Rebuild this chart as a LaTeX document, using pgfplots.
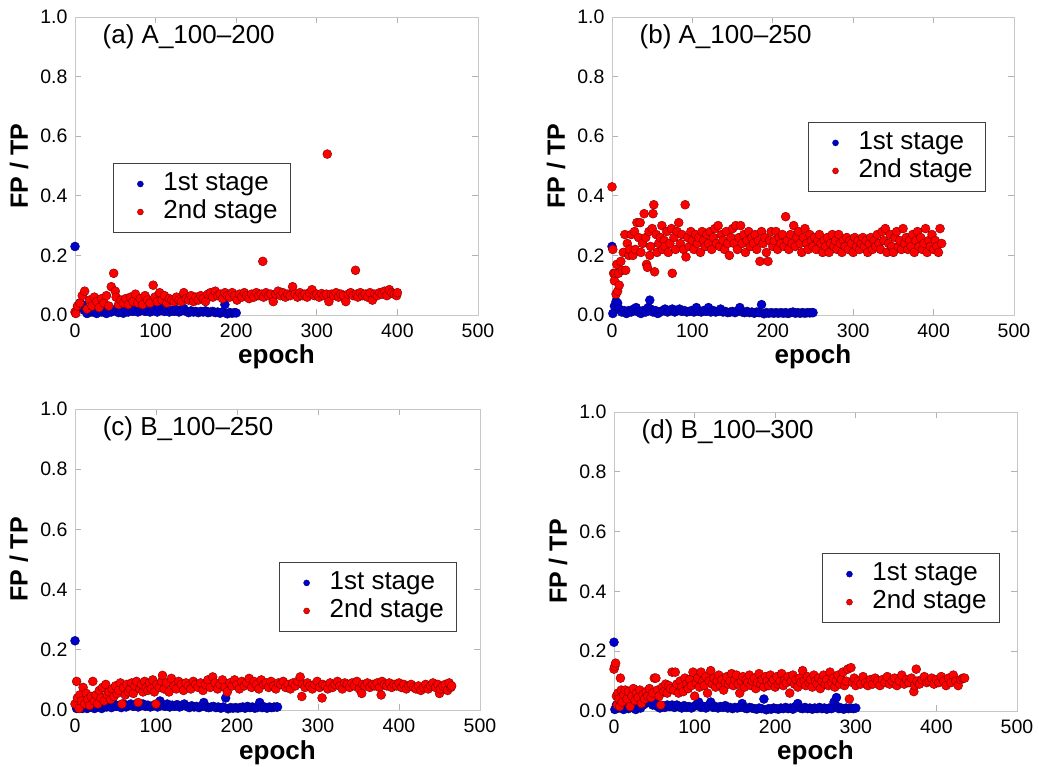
\documentclass[border=0pt]{standalone}
\usepackage{fontspec}
\setmainfont{Liberation Sans}
\usepackage{pgfplots}
\pgfplotsset{compat=1.18}
\definecolor{mblue}{RGB}{0,0,205}
\definecolor{mblueedge}{RGB}{0,0,110}
\definecolor{mred}{RGB}{255,0,0}
\definecolor{mrededge}{RGB}{120,0,0}
\pgfplotsset{
  myax/.style={
    scale only axis,
    anchor=south west,
    xmin=0, xmax=500, ymin=0, ymax=1.0,
    xtick={0,100,200,300,400,500},
    ytick={0,0.2,0.4,0.6,0.8,1.0},
    clip=false,
    axis line style={draw=black!22, line width=1pt},
    tick style={draw=black!30, line width=1pt},
    major tick length=6pt,
    /pgf/number format/assume math mode=true,
    yticklabel style={/pgf/number format/fixed, /pgf/number format/fixed zerofill, /pgf/number format/precision=1, xshift=-4pt},
    ticklabel style={font=\fontsize{19.5}{22}\selectfont},
    xticklabel style={yshift=-5pt},
    scaled y ticks=false,
    xlabel={epoch}, ylabel={FP / TP},
    xlabel style={at={(axis description cs:0.5,-0.141)}, anchor=center, font=\bfseries\fontsize{26}{30}\selectfont},
    ylabel style={at={(axis description cs:-0.139,0.5)}, anchor=center, font=\bfseries\fontsize{25}{30}\selectfont},
    legend cell align=left,
    legend image code/.code={\path[draw=none, fill=none] (0pt,-1pt) rectangle (30pt,1pt);
      \draw[mark repeat=2,mark phase=2,#1] plot coordinates {(0pt,0pt) (15pt,0pt) (30pt,0pt)};},
    legend image post style={mark size=3pt, line width=0.3pt},
    legend style={draw=black!75, line width=1pt, fill=white,
      font=\fontsize{26}{30}\selectfont,
      inner xsep=12pt, inner ysep=7pt, row sep=1pt,
      nodes={inner sep=1pt, text height=19pt, text depth=6pt},
      /tikz/every odd column/.append style={column sep=7pt}},
  },
  bser/.style={only marks, mark=*, mark size=4.5pt, mark options={fill=mblue, draw=mblueedge, line width=0.4pt}},
  rser/.style={only marks, mark=*, mark size=4.5pt, mark options={fill=mred, draw=mrededge, line width=0.4pt}},
}
\begin{document}
\begin{tikzpicture}
\useasboundingbox (0,0) rectangle (1039pt,-766pt);
% (a)
\begin{axis}[myax, at={(75pt,-315pt)}, width=403pt, height=298pt,
  legend style={at={(0.094,0.51)}, anchor=north west}]
\addplot[bser] coordinates {(0,0.23) (3,0.02) (6,0.04) (9,0.035) (12,0.015) (15,0.005) (18,0.02) (21,0.01) (24,0.015) (27,0.005) (30,0.02) (33,0.01) (36,0.015) (39,0.005) (42,0.02) (45,0.01) (48,0.015) (51,0.02) (54,0.008) (57,0.012) (60,0.006) (63,0.015) (66,0.01) (69,0.02) (72,0.012) (75,0.018) (78,0.01) (81,0.015) (84,0.02) (87,0.012) (90,0.016) (93,0.01) (96,0.014) (99,0.02) (102,0.01) (105,0.025) (108,0.015) (111,0.012) (114,0.02) (117,0.01) (120,0.016) (123,0.012) (126,0.018) (129,0.01) (132,0.014) (135,0.022) (138,0.012) (141,0.008) (144,0.014) (147,0.01) (150,0.012) (153,0.008) (156,0.012) (159,0.01) (162,0.014) (165,0.008) (168,0.01) (171,0.012) (174,0.008) (177,0.01) (180,0.006) (183,0.01) (186,0.035) (189,0.004) (192,0.008) (195,0.006) (198,0.008) (200,0.007)};
\addlegendentry{1st stage}
\addplot[rser] coordinates {(0,0.01) (1,0.005) (3,0.03) (6,0.04) (9,0.065) (12,0.08) (15,0.02) (18,0.05) (21,0.03) (24,0.06) (27,0.045) (30,0.025) (33,0.055) (36,0.04) (39,0.065) (42,0.03) (45,0.095) (48,0.14) (50,0.08) (51,0.06) (54,0.035) (57,0.05) (60,0.04) (63,0.055) (66,0.035) (69,0.06) (72,0.045) (75,0.07) (78,0.04) (81,0.055) (84,0.035) (87,0.065) (90,0.05) (93,0.04) (97,0.1) (99,0.06) (102,0.045) (105,0.075) (108,0.05) (111,0.065) (114,0.04) (117,0.055) (120,0.05) (123,0.045) (126,0.06) (129,0.05) (132,0.045) (135,0.075) (138,0.055) (141,0.05) (144,0.065) (147,0.045) (150,0.06) (153,0.05) (156,0.065) (159,0.055) (162,0.045) (165,0.07) (168,0.075) (171,0.06) (174,0.08) (177,0.065) (180,0.07) (183,0.055) (186,0.075) (189,0.065) (192,0.06) (195,0.075) (198,0.065) (201,0.05) (204,0.07) (207,0.06) (210,0.075) (213,0.065) (216,0.055) (219,0.07) (222,0.06) (225,0.075) (228,0.065) (231,0.07) (233,0.18) (234,0.06) (237,0.075) (240,0.065) (243,0.07) (246,0.045) (249,0.07) (252,0.08) (255,0.065) (258,0.075) (261,0.06) (264,0.07) (267,0.065) (270,0.095) (273,0.07) (276,0.06) (279,0.075) (282,0.065) (285,0.07) (288,0.06) (291,0.075) (294,0.085) (297,0.065) (300,0.07) (303,0.06) (306,0.072) (309,0.065) (312,0.07) (313,0.54) (315,0.045) (318,0.07) (321,0.065) (324,0.075) (327,0.06) (330,0.07) (333,0.065) (336,0.045) (339,0.07) (342,0.075) (345,0.065) (348,0.15) (349,0.07) (351,0.06) (354,0.075) (357,0.065) (360,0.07) (363,0.06) (366,0.075) (369,0.05) (372,0.07) (375,0.065) (378,0.075) (381,0.07) (384,0.08) (387,0.065) (390,0.085) (393,0.075) (396,0.07) (399,0.065) (400,0.075)};
\addlegendentry{2nd stage}
\node[anchor=west, font=\fontsize{26}{30}\selectfont] at (rel axis cs:0.06,0.933) {(a) A\_100–200};
\end{axis}
% (b)
\begin{axis}[myax, at={(612pt,-315pt)}, width=402pt, height=298pt,
  legend style={at={(0.4876,0.648)}, anchor=north west}]
\addplot[bser] coordinates {(0,0.23) (1,0.005) (3,0.03) (5,0.045) (7,0.04) (9,0.02) (12,0.01) (15,0.015) (18,0.005) (21,0.015) (24,0.01) (27,0.02) (30,0.025) (33,0.01) (36,0.005) (39,0.015) (42,0.01) (45,0.025) (47,0.05) (48,0.02) (51,0.01) (54,0.015) (57,0.005) (60,0.01) (63,0.015) (66,0.02) (69,0.01) (72,0.015) (75,0.02) (78,0.01) (81,0.015) (84,0.02) (87,0.012) (90,0.015) (93,0.01) (96,0.012) (99,0.015) (102,0.01) (105,0.025) (108,0.012) (111,0.01) (114,0.015) (117,0.012) (120,0.025) (123,0.01) (126,0.015) (129,0.01) (132,0.012) (135,0.02) (138,0.01) (141,0.012) (144,0.008) (147,0.01) (150,0.012) (153,0.008) (156,0.012) (159,0.025) (162,0.01) (165,0.008) (168,0.012) (171,0.008) (174,0.01) (177,0.006) (180,0.01) (183,0.008) (186,0.035) (189,0.004) (192,0.008) (195,0.006) (198,0.008) (201,0.006) (204,0.008) (207,0.006) (210,0.008) (213,0.006) (216,0.008) (219,0.005) (222,0.008) (225,0.01) (228,0.006) (231,0.008) (234,0.006) (237,0.008) (240,0.006) (243,0.008) (246,0.007) (249,0.008) (250,0.008)};
\addlegendentry{1st stage}
\addplot[rser] coordinates {(0,0.43) (1,0.22) (2,0.14) (3,0.115) (4,0.14) (5,0.07) (6,0.17) (7,0.08) (8,0.14) (9,0.1) (11,0.18) (13,0.15) (14,0.21) (16,0.27) (17,0.15) (19,0.24) (21,0.2) (22,0.22) (24,0.27) (26,0.2) (28,0.28) (29,0.22) (31,0.31) (33,0.26) (35,0.31) (36,0.21) (38,0.24) (40,0.34) (42,0.26) (43,0.17) (44,0.16) (46,0.28) (47,0.2) (48,0.23) (50,0.29) (51,0.34) (52,0.37) (53,0.145) (55,0.27) (56,0.21) (58,0.24) (60,0.26) (62,0.3) (63,0.22) (65,0.25) (66,0.23) (68,0.28) (70,0.21) (72,0.24) (74,0.29) (75,0.14) (77,0.26) (79,0.22) (81,0.28) (83,0.31) (85,0.24) (87,0.27) (89,0.22) (91,0.37) (92,0.195) (94,0.26) (96,0.23) (98,0.28) (100,0.25) (102,0.22) (104,0.27) (106,0.24) (108,0.26) (110,0.21) (112,0.28) (114,0.25) (116,0.23) (118,0.27) (120,0.24) (122,0.28) (124,0.22) (126,0.26) (128,0.29) (130,0.24) (132,0.3) (134,0.23) (136,0.27) (138,0.25) (140,0.22) (142,0.28) (144,0.24) (146,0.2) (148,0.26) (150,0.29) (152,0.24) (154,0.3) (156,0.22) (158,0.26) (160,0.3) (162,0.24) (164,0.27) (166,0.21) (168,0.25) (170,0.28) (172,0.23) (174,0.26) (176,0.24) (178,0.27) (180,0.22) (182,0.25) (184,0.18) (186,0.28) (188,0.24) (190,0.26) (192,0.21) (194,0.18) (196,0.25) (198,0.28) (200,0.23) (202,0.25) (204,0.28) (206,0.22) (208,0.26) (210,0.24) (212,0.27) (214,0.23) (216,0.33) (218,0.25) (220,0.22) (222,0.27) (224,0.24) (226,0.3) (228,0.23) (230,0.26) (232,0.28) (234,0.24) (236,0.21) (238,0.26) (240,0.29) (242,0.24) (244,0.22) (246,0.27) (248,0.25) (250,0.23) (252,0.26) (254,0.22) (256,0.25) (258,0.27) (260,0.24) (262,0.21) (264,0.25) (266,0.23) (268,0.26) (270,0.21) (272,0.24) (274,0.27) (276,0.23) (278,0.25) (280,0.22) (282,0.27) (284,0.24) (286,0.21) (288,0.25) (290,0.23) (292,0.26) (294,0.22) (296,0.25) (298,0.24) (300,0.21) (302,0.26) (304,0.23) (306,0.25) (308,0.22) (310,0.24) (312,0.26) (314,0.23) (316,0.25) (318,0.21) (320,0.24) (322,0.26) (324,0.22) (326,0.25) (328,0.23) (330,0.27) (332,0.24) (334,0.22) (336,0.28) (338,0.25) (340,0.29) (342,0.21) (344,0.24) (346,0.27) (348,0.23) (350,0.21) (352,0.26) (354,0.28) (356,0.23) (358,0.25) (360,0.22) (362,0.29) (364,0.24) (366,0.26) (368,0.22) (370,0.25) (372,0.23) (374,0.27) (376,0.21) (378,0.25) (380,0.28) (382,0.23) (384,0.26) (386,0.22) (388,0.24) (390,0.29) (392,0.21) (394,0.25) (396,0.23) (398,0.27) (400,0.22) (402,0.25) (404,0.23) (406,0.21) (408,0.29) (410,0.24)};
\addlegendentry{2nd stage}
\node[anchor=west, font=\fontsize{26}{30}\selectfont] at (rel axis cs:0.06,0.933) {(b) A\_100–250};
\end{axis}
% (c)
\begin{axis}[myax, at={(75pt,-710pt)}, width=405pt, height=301pt,
  legend style={at={(0.504,0.492)}, anchor=north west}]
\addplot[bser] coordinates {(0,0.23) (2,0.005) (4,0.02) (6,0.01) (9,0.005) (12,0.015) (15,0.005) (18,0.01) (21,0.015) (24,0.005) (27,0.01) (30,0.02) (33,0.005) (36,0.012) (39,0.01) (42,0.015) (45,0.008) (48,0.02) (51,0.012) (54,0.015) (57,0.008) (60,0.02) (63,0.01) (66,0.015) (69,0.02) (72,0.012) (75,0.018) (78,0.01) (81,0.015) (84,0.02) (87,0.012) (90,0.016) (93,0.01) (96,0.014) (99,0.018) (102,0.01) (105,0.03) (108,0.015) (111,0.012) (114,0.02) (117,0.01) (120,0.016) (123,0.012) (126,0.018) (129,0.01) (132,0.014) (135,0.02) (138,0.012) (141,0.008) (144,0.014) (147,0.01) (150,0.012) (153,0.008) (156,0.012) (159,0.025) (162,0.01) (165,0.008) (168,0.01) (171,0.012) (174,0.008) (177,0.01) (180,0.006) (183,0.01) (186,0.04) (189,0.004) (192,0.008) (195,0.006) (198,0.008) (201,0.006) (204,0.008) (207,0.01) (210,0.006) (213,0.012) (216,0.008) (219,0.01) (222,0.006) (225,0.008) (228,0.025) (231,0.008) (234,0.01) (237,0.006) (240,0.01) (243,0.008) (246,0.01) (249,0.01) (250,0.01)};
\addlegendentry{1st stage}
\addplot[rser] coordinates {(0,0.02) (2,0.095) (3,0.04) (5,0.005) (6,0.05) (8,0.03) (10,0.075) (12,0.02) (14,0.055) (16,0.035) (18,0.015) (20,0.045) (22,0.095) (24,0.03) (26,0.05) (28,0.02) (30,0.065) (32,0.04) (34,0.075) (36,0.03) (38,0.085) (40,0.05) (42,0.06) (44,0.035) (46,0.07) (48,0.045) (50,0.08) (52,0.055) (54,0.065) (56,0.09) (58,0.02) (60,0.075) (62,0.05) (64,0.085) (66,0.06) (68,0.07) (70,0.09) (72,0.055) (74,0.08) (76,0.095) (78,0.025) (80,0.07) (82,0.085) (84,0.06) (86,0.095) (88,0.075) (90,0.065) (92,0.09) (94,0.07) (96,0.1) (98,0.06) (100,0.02) (101,0.085) (104,0.075) (107,0.095) (108,0.115) (110,0.07) (113,0.09) (116,0.06) (119,0.105) (122,0.08) (125,0.07) (128,0.095) (131,0.085) (134,0.065) (137,0.09) (140,0.08) (143,0.07) (146,0.095) (149,0.085) (152,0.075) (155,0.09) (158,0.065) (161,0.085) (164,0.1) (167,0.075) (170,0.11) (173,0.09) (176,0.07) (179,0.085) (182,0.1) (185,0.075) (188,0.06) (191,0.09) (194,0.08) (197,0.1) (200,0.085) (203,0.07) (206,0.095) (209,0.08) (212,0.09) (215,0.105) (218,0.075) (221,0.095) (224,0.085) (227,0.07) (230,0.1) (233,0.085) (236,0.09) (239,0.075) (242,0.095) (245,0.08) (248,0.07) (251,0.09) (254,0.085) (257,0.095) (260,0.075) (263,0.085) (266,0.07) (269,0.09) (272,0.08) (275,0.095) (278,0.11) (280,0.045) (281,0.085) (284,0.075) (287,0.09) (290,0.08) (293,0.07) (296,0.085) (299,0.095) (302,0.075) (305,0.04) (306,0.085) (309,0.08) (312,0.07) (315,0.09) (318,0.075) (321,0.085) (324,0.095) (327,0.08) (330,0.07) (333,0.09) (336,0.085) (339,0.075) (342,0.09) (345,0.08) (348,0.095) (351,0.07) (354,0.055) (355,0.085) (358,0.08) (361,0.09) (364,0.075) (367,0.085) (370,0.08) (373,0.09) (376,0.075) (378,0.05) (379,0.095) (382,0.085) (385,0.08) (388,0.09) (391,0.075) (394,0.085) (397,0.08) (400,0.09) (403,0.075) (406,0.085) (409,0.07) (412,0.08) (415,0.085) (418,0.075) (421,0.07) (424,0.08) (427,0.065) (430,0.075) (433,0.085) (436,0.07) (439,0.08) (442,0.09) (445,0.075) (448,0.085) (450,0.055) (451,0.07) (454,0.08) (457,0.085) (460,0.065) (462,0.09) (464,0.075) (465,0.08)};
\addlegendentry{2nd stage}
\node[anchor=west, font=\fontsize{26}{30}\selectfont] at (rel axis cs:0.06,0.933) {(c) B\_100–250};
\end{axis}
% (d)
\begin{axis}[myax, at={(614pt,-711pt)}, width=403pt, height=299pt,
  legend style={at={(0.516,0.528)}, anchor=north west}]
\addplot[bser] coordinates {(0,0.23) (1,0.005) (3,0.02) (6,0.01) (9,0.025) (12,0.005) (15,0.015) (18,0.008) (21,0.02) (24,0.01) (27,0.005) (30,0.015) (33,0.01) (36,0.02) (39,0.025) (42,0.03) (45,0.028) (48,0.02) (51,0.025) (54,0.015) (57,0.01) (60,0.018) (63,0.012) (66,0.02) (69,0.015) (72,0.02) (75,0.012) (78,0.02) (81,0.015) (84,0.01) (87,0.018) (90,0.012) (93,0.015) (96,0.01) (99,0.015) (102,0.02) (105,0.03) (108,0.012) (111,0.015) (114,0.01) (117,0.018) (120,0.03) (123,0.012) (126,0.015) (129,0.01) (132,0.015) (135,0.012) (138,0.018) (141,0.01) (144,0.012) (147,0.008) (150,0.012) (153,0.01) (156,0.012) (159,0.025) (162,0.01) (165,0.008) (168,0.012) (171,0.01) (174,0.008) (177,0.006) (180,0.01) (183,0.008) (186,0.04) (189,0.004) (192,0.008) (195,0.006) (198,0.01) (201,0.008) (204,0.006) (207,0.01) (210,0.008) (213,0.012) (216,0.008) (219,0.01) (222,0.006) (225,0.015) (228,0.025) (231,0.01) (234,0.008) (237,0.012) (240,0.008) (243,0.01) (246,0.006) (249,0.01) (252,0.008) (255,0.012) (258,0.008) (261,0.01) (264,0.006) (267,0.01) (270,0.008) (273,0.03) (276,0.045) (277,0.015) (279,0.008) (282,0.01) (285,0.006) (288,0.01) (291,0.008) (294,0.01) (297,0.008) (300,0.01)};
\addlegendentry{1st stage}
\addplot[rser] coordinates {(0,0.14) (1,0.15) (2,0.16) (3,0.05) (4,0.02) (5,0.06) (6,0.04) (7,0.015) (8,0.11) (9,0.07) (10,0.03) (12,0.055) (14,0.07) (16,0.04) (18,0.065) (20,0.015) (22,0.05) (24,0.075) (26,0.035) (28,0.06) (30,0.045) (32,0.07) (34,0.025) (36,0.055) (38,0.04) (40,0.065) (42,0.05) (44,0.075) (46,0.045) (48,0.06) (50,0.11) (52,0.11) (54,0.07) (56,0.05) (58,0.02) (60,0.08) (62,0.065) (64,0.09) (66,0.06) (68,0.085) (70,0.075) (72,0.13) (74,0.07) (76,0.13) (78,0.09) (80,0.06) (82,0.1) (84,0.08) (86,0.065) (88,0.11) (90,0.09) (92,0.075) (94,0.105) (96,0.085) (98,0.13) (100,0.05) (102,0.095) (104,0.11) (106,0.08) (108,0.13) (110,0.1) (112,0.085) (114,0.115) (116,0.06) (118,0.1) (120,0.135) (122,0.09) (124,0.11) (126,0.08) (128,0.1) (130,0.12) (132,0.085) (134,0.105) (136,0.07) (138,0.095) (140,0.115) (142,0.09) (144,0.1) (146,0.125) (148,0.085) (150,0.105) (152,0.12) (154,0.09) (156,0.06) (158,0.1) (160,0.115) (162,0.08) (164,0.105) (166,0.095) (168,0.12) (170,0.085) (172,0.1) (174,0.11) (176,0.075) (178,0.095) (180,0.125) (182,0.09) (184,0.105) (186,0.08) (188,0.115) (190,0.1) (192,0.085) (194,0.12) (196,0.095) (198,0.105) (200,0.08) (202,0.115) (204,0.09) (206,0.1) (208,0.125) (210,0.085) (212,0.105) (214,0.095) (216,0.115) (218,0.06) (220,0.1) (222,0.12) (224,0.09) (226,0.105) (228,0.08) (230,0.11) (232,0.095) (234,0.135) (236,0.1) (238,0.085) (240,0.115) (242,0.095) (244,0.105) (246,0.08) (248,0.12) (250,0.1) (252,0.09) (254,0.11) (256,0.075) (258,0.1) (260,0.12) (262,0.09) (264,0.105) (266,0.085) (268,0.13) (270,0.095) (272,0.11) (274,0.08) (276,0.1) (278,0.12) (280,0.09) (282,0.105) (284,0.13) (286,0.085) (288,0.1) (290,0.14) (292,0.04) (294,0.145) (296,0.095) (298,0.11) (300,0.085) (303,0.1) (306,0.09) (309,0.115) (312,0.095) (315,0.085) (318,0.105) (321,0.09) (324,0.11) (327,0.1) (330,0.085) (333,0.105) (336,0.095) (339,0.115) (342,0.09) (345,0.1) (348,0.11) (351,0.085) (354,0.1) (357,0.12) (360,0.09) (363,0.105) (366,0.095) (369,0.11) (372,0.065) (373,0.085) (375,0.14) (376,0.1) (379,0.09) (382,0.105) (385,0.115) (388,0.095) (391,0.1) (394,0.11) (397,0.09) (400,0.105) (403,0.095) (406,0.115) (409,0.1) (412,0.085) (415,0.11) (418,0.095) (421,0.12) (424,0.1) (427,0.085) (430,0.105) (433,0.11) (435,0.11)};
\addlegendentry{2nd stage}
\node[anchor=west, font=\fontsize{26}{30}\selectfont] at (rel axis cs:0.06,0.933) {(d) B\_100–300};
\end{axis}
\end{tikzpicture}
\end{document}
